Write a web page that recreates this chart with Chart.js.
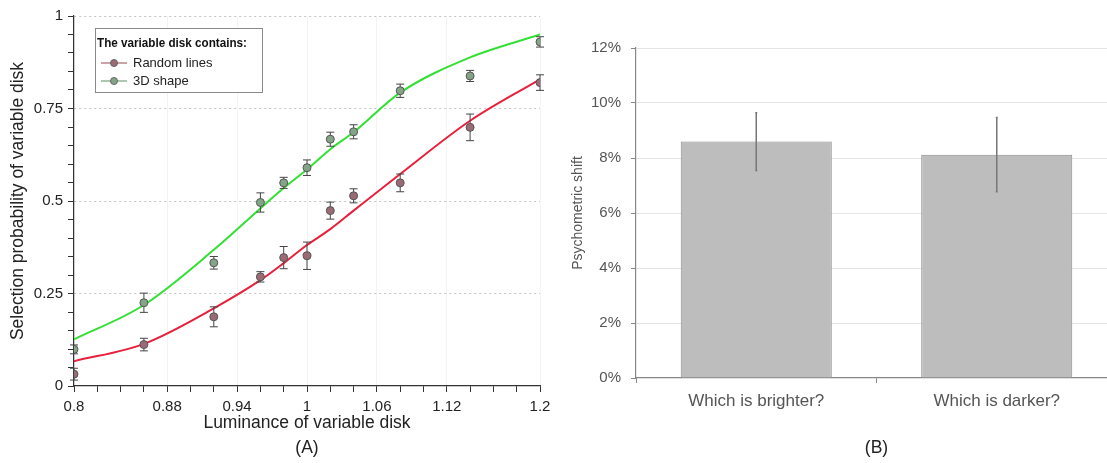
<!DOCTYPE html>
<html>
<head>
<meta charset="utf-8">
<script src="https://cdn.jsdelivr.net/npm/chart.js@4.4.1/dist/chart.umd.min.js"></script>
<style>
    html, body { margin: 0; padding: 0; background: #fff; width: 1107px; height: 463px; overflow: hidden; }
    .panel { position: absolute; top: 0; height: 463px; }
    #panelA { left: 0; width: 560px; }
    #panelB { left: 560px; width: 580px; }
</style>
</head>
<body>
<div class="panel" id="panelA"><canvas id="chartA"></canvas></div>
<div class="panel" id="panelB"><canvas id="chartB"></canvas></div>
<script>
// Panel A data (luminance vs selection probability)
const luminance = [0.8, 0.86, 0.92, 0.96, 0.98, 1.0, 1.02, 1.04, 1.08, 1.14, 1.2];
const randomMean = [0.032, 0.112, 0.187, 0.295, 0.347, 0.352, 0.474, 0.514, 0.549, 0.699, 0.82];
const randomErr = [0.016, 0.017, 0.027, 0.014, 0.03, 0.037, 0.023, 0.019, 0.024, 0.036, 0.021];
const shapeMean = [0.099, 0.225, 0.333, 0.496, 0.549, 0.59, 0.667, 0.687, 0.798, 0.838, 0.93];
const shapeErr = [0.012, 0.026, 0.017, 0.026, 0.015, 0.021, 0.019, 0.019, 0.018, 0.015, 0.014];
const randomFit = [0.067, 0.114, 0.21, 0.286, 0.332, 0.381, 0.424, 0.474, 0.573, 0.717, 0.829];
const shapeFit = [0.126, 0.219, 0.368, 0.48, 0.535, 0.585, 0.64, 0.686, 0.793, 0.888, 0.95];
const xLabelTicks = [0.8, 0.88, 0.94, 1, 1.06, 1.12, 1.2];
const yLabelTicks = [0, 0.25, 0.5, 0.75, 1];

// Panel B data
const questions = ['Which is brighter?', 'Which is darker?'];
const shiftPct = [8.6, 8.12];
const shiftErr = [1.05, 1.35];
const pctTicks = [0, 2, 4, 6, 8, 10, 12];

Chart.defaults.font.family = "'Liberation Sans', Arial, sans-serif";
Chart.defaults.animation = false;

const isLabelled = (list, v) => list.some(t => Math.abs(t - v) < 1e-6);
const toPoints = (xs, ys) => xs.map((x, i) => ({x: x, y: ys[i]}));

// draws error bars for datasets that carry an "errors" array
const errorBars = {
    id: 'errorBars',
    drawBars(chart, args) {
        const ds = chart.data.datasets[args.index];
        const yScale = chart.scales.y;
        const ctx = chart.ctx;
        ctx.save();
        ctx.strokeStyle = ds.errorColor;
        ctx.lineWidth = ds.errorWidth;
        args.meta.data.forEach((el, i) => {
            const d = ds.data[i];
            const v = typeof d === 'object' ? d.y : d;
            const top = yScale.getPixelForValue(v + ds.errors[i]);
            const bot = yScale.getPixelForValue(v - ds.errors[i]);
            const x = el.x, c = ds.capWidth / 2;
            ctx.beginPath();
            ctx.moveTo(x, top); ctx.lineTo(x, bot);
            ctx.moveTo(x - c, top); ctx.lineTo(x + c, top);
            ctx.moveTo(x - c, bot); ctx.lineTo(x + c, bot);
            ctx.stroke();
        });
        ctx.restore();
    },
    beforeDatasetDraw(chart, args) {
        const ds = chart.data.datasets[args.index];
        if (ds.errors && !ds.errorsOnTop) this.drawBars(chart, args);
    },
    afterDatasetDraw(chart, args) {
        const ds = chart.data.datasets[args.index];
        if (ds.errors && ds.errorsOnTop) this.drawBars(chart, args);
    }
};

// boxed legend inside the plot of panel A
const boxLegend = {
    id: 'boxLegend',
    afterDraw(chart) {
        const ctx = chart.ctx;
        ctx.save();
        ctx.fillStyle = '#fff';
        ctx.strokeStyle = '#8a8a8a';
        ctx.lineWidth = 1;
        ctx.fillRect(95.5, 28.5, 167, 64);
        ctx.strokeRect(95.5, 28.5, 167, 64);
        ctx.fillStyle = '#111';
        ctx.textBaseline = 'middle';
        ctx.font = "bold 12.5px 'Liberation Sans Narrow', 'Liberation Sans', sans-serif";
        ctx.fillText('The variable disk contains:', 97, 44, 150);
        const items = [
            {text: 'Random lines', line: '#b9848a', fill: '#9a6b74', y: 63},
            {text: '3D shape', line: '#93b597', fill: '#84a488', y: 81}
        ];
        items.forEach(it => {
            ctx.strokeStyle = it.line;
            ctx.lineWidth = 1.5;
            ctx.beginPath(); ctx.moveTo(101, it.y); ctx.lineTo(127, it.y); ctx.stroke();
            ctx.beginPath(); ctx.arc(114, it.y, 3.5, 0, Math.PI * 2);
            ctx.fillStyle = it.fill; ctx.fill();
            ctx.strokeStyle = '#666'; ctx.lineWidth = 1; ctx.stroke();
            ctx.fillStyle = '#222';
            ctx.font = "13px 'Liberation Sans', Arial, sans-serif";
            ctx.fillText(it.text, 133, it.y);
        });
        ctx.restore();
    }
};

// Panel A
function initChartA() {
    const ctx = document.getElementById('chartA').getContext('2d');
    const xMinor = [], yMinor = [];
    for (let i = 0; i <= 20; i++) xMinor.push(+(0.8 + i * 0.02).toFixed(2));
    for (let i = 0; i <= 20; i++) yMinor.push(+(i * 0.05).toFixed(2));

    new Chart(ctx, {
        type: 'scatter',
        data: {
            datasets: [
                {
                    label: 'Random lines',
                    data: toPoints(luminance, randomMean),
                    errors: randomErr, errorColor: '#444', errorWidth: 1, capWidth: 8,
                    backgroundColor: '#9a6b74', borderColor: '#555', borderWidth: 1,
                    pointRadius: 4, order: 1
                },
                {
                    label: '3D shape',
                    data: toPoints(luminance, shapeMean),
                    errors: shapeErr, errorColor: '#444', errorWidth: 1, capWidth: 8,
                    backgroundColor: '#84a488', borderColor: '#555', borderWidth: 1,
                    pointRadius: 4, order: 2
                },
                {
                    label: 'Random lines fit',
                    data: toPoints(luminance, randomFit),
                    showLine: true, pointRadius: 0, borderColor: '#e8203c', borderWidth: 2,
                    cubicInterpolationMode: 'monotone', order: 3
                },
                {
                    label: '3D shape fit',
                    data: toPoints(luminance, shapeFit),
                    showLine: true, pointRadius: 0, borderColor: '#33e033', borderWidth: 2,
                    cubicInterpolationMode: 'monotone', order: 4
                }
            ]
        },
        options: {
            responsive: true,
            maintainAspectRatio: false,
            layout: { padding: { left: 0, top: 16, right: 20, bottom: 2 } },
            plugins: { legend: { display: false }, tooltip: { enabled: false } },
            scales: {
                x: {
                    type: 'linear', min: 0.8, max: 1.2,
                    afterBuildTicks: s => { s.ticks = xMinor.map(v => ({value: v})); },
                    afterFit: s => { s.height = 75; },
                    ticks: {
                        autoSkip: false, maxRotation: 0, padding: 6,
                        color: '#222', font: { size: 15 },
                        callback: v => isLabelled(xLabelTicks, v) ? String(+v.toFixed(2)) : ''
                    },
                    grid: {
                        tickLength: 6, tickColor: '#333',
                        color: c => c.tick && isLabelled(xLabelTicks, c.tick.value) ? '#f3f3f3' : 'rgba(0,0,0,0)'
                    },
                    border: { color: '#333', width: 1.2 },
                    title: {
                        display: true,
                        text: ['Luminance of variable disk', '(A)'],
                        color: '#222',
                        font: { size: 17.5, lineHeight: '25px' },
                        padding: 0
                    }
                },
                y: {
                    type: 'linear', min: 0, max: 1,
                    afterBuildTicks: s => { s.ticks = yMinor.map(v => ({value: v})); },
                    afterFit: s => { s.width = 74; },
                    ticks: {
                        autoSkip: false, padding: 5,
                        color: '#222', font: { size: 15 },
                        callback: v => isLabelled(yLabelTicks, v) ? String(+v.toFixed(2)) : ''
                    },
                    grid: {
                        tickLength: 6, tickColor: '#333',
                        color: c => c.tick && isLabelled(yLabelTicks, c.tick.value) && c.tick.value > 0 ? '#c4c4c4' : 'rgba(0,0,0,0)'
                    },
                    border: { color: '#333', width: 1.2, dash: [2, 3] },
                    title: {
                        display: true,
                        text: 'Selection probability of variable disk',
                        color: '#222',
                        font: { size: 17.5, lineHeight: '20px' },
                        padding: { top: 8, bottom: 0 }
                    }
                }
            }
        },
        plugins: [errorBars, boxLegend]
    });
}

// Panel B
function initChartB() {
    const ctx = document.getElementById('chartB').getContext('2d');
    new Chart(ctx, {
        type: 'bar',
        data: {
            labels: questions,
            datasets: [{
                label: 'Psychometric shift',
                data: shiftPct,
                errors: shiftErr, errorsOnTop: true, errorColor: '#777', errorWidth: 1.5, capWidth: 2,
                backgroundColor: '#bdbdbd', borderColor: '#8a8a8a', borderWidth: 1,
                categoryPercentage: 1, barPercentage: 0.628
            }]
        },
        options: {
            responsive: true,
            maintainAspectRatio: false,
            layout: { padding: { left: 0, top: 48, right: 23, bottom: 4 } },
            plugins: { legend: { display: false }, tooltip: { enabled: false } },
            scales: {
                x: {
                    afterFit: s => { s.height = 81; },
                    ticks: { color: '#555', font: { size: 17 }, padding: 8, maxRotation: 0 },
                    grid: { drawOnChartArea: false, tickLength: 5, tickColor: '#888' },
                    border: { color: '#888', width: 1.2 },
                    title: {
                        display: true, text: '(B)', color: '#222',
                        font: { size: 17.5, lineHeight: '22px' }, padding: 0
                    }
                },
                y: {
                    min: 0, max: 12,
                    afterBuildTicks: s => { s.ticks = pctTicks.map(v => ({value: v})); },
                    afterFit: s => { s.width = 76; },
                    ticks: { color: '#555', font: { size: 15 }, padding: 10, callback: v => v + '%' },
                    grid: {
                        tickLength: 5, tickColor: '#888',
                        color: c => c.tick && c.tick.value > 0 ? '#e4e4e4' : 'rgba(0,0,0,0)'
                    },
                    border: { color: '#888', width: 1.2 },
                    title: {
                        display: true, text: 'Psychometric shift', color: '#555',
                        font: { size: 14, lineHeight: '18px' },
                        padding: { top: 9, bottom: 0 }
                    }
                }
            }
        },
        plugins: [errorBars]
    });
}

window.onload = () => {
    initChartA();
    initChartB();
};
</script>
</body>
</html>
